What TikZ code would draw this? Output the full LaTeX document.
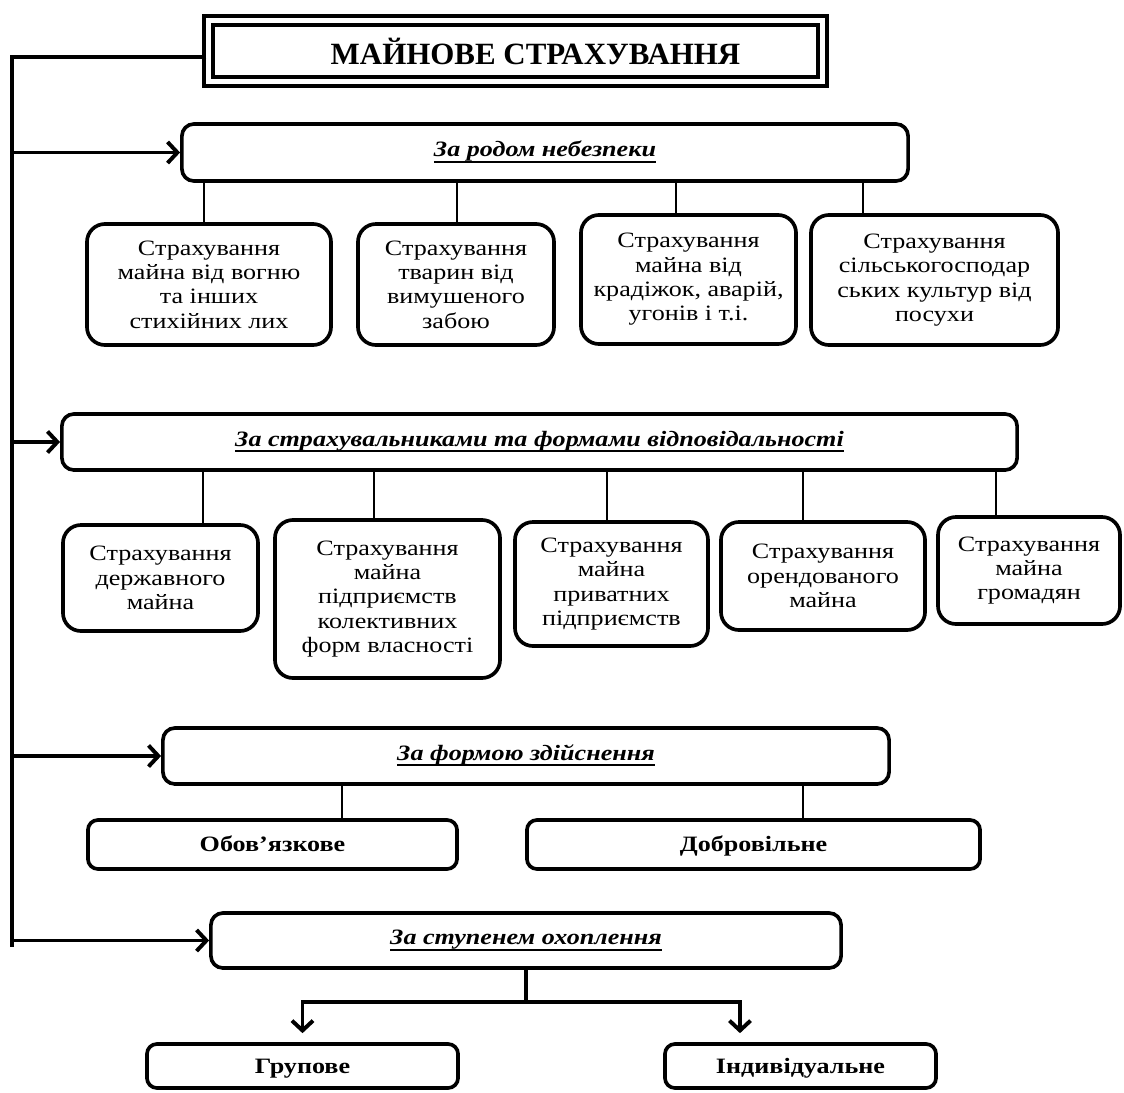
\documentclass[tikz,border=0pt]{standalone}
\usepackage{fontspec}
\setmainfont{Liberation Serif}[FakeStretch=1.19]
\newfontfamily\titlefont{Liberation Serif}
\usetikzlibrary{arrows.meta}
\newsavebox{\hdrbox}
\newcommand{\hdr}[1]{\sbox{\hdrbox}{\bfseries\itshape #1}\rlap{\rule[-4pt]{\wd\hdrbox}{1.3pt}}\usebox{\hdrbox}}

\begin{document}
\begin{tikzpicture}[x=0.025cm, y=-0.025cm,
  font=\fontsize{15.6}{17.3}\selectfont,
  box/.style={draw, line width=2.6pt, rounded corners=0.45cm, align=center, inner sep=0pt},
  head/.style={draw, line width=2.6pt, rounded corners=0.3cm, inner sep=0pt, text height=10.3pt, text depth=4pt},
  kind/.style={draw, line width=2.6pt, rounded corners=0.25cm, inner sep=0pt, text height=10.3pt, text depth=0pt, font=\fontsize{15.6}{17.3}\selectfont\bfseries},
  link/.style={line width=0.9pt},
  trunk/.style={line width=2.8pt},
  branch/.style={line width=2.8pt, -{Straight Barb[length=7pt, width=15pt]}}]
\useasboundingbox (0,0) rectangle (1124,1092);

% title
\node[draw, line width=3pt, double, double distance=3.2pt, minimum width=15.35cm, minimum height=1.525cm, inner sep=0pt, font=\titlefont\fontsize{22}{26}\selectfont\bfseries] (title) at (515.5,51) {\hspace*{1cm}МАЙНОВЕ СТРАХУВАННЯ};

% criteria
\node[head, minimum width=18.15cm, minimum height=1.425cm] (hazard) at (545,152.5) {\hdr{За родом небезпеки}};
\node[head, minimum width=23.875cm, minimum height=1.4cm] (holder) at (539.5,442) {\hdr{За страхувальниками та формами відповідальності}};
\node[head, minimum width=18.15cm, minimum height=1.4cm] (form) at (526,756) {\hdr{За формою здійснення}};
\node[head, minimum width=15.75cm, minimum height=1.375cm] (cover) at (526,940.5) {\hdr{За ступенем охоплення}};

% by hazard
\node[box, minimum width=6.1cm, minimum height=3.025cm] (h1) at (209,284.5) {Страхування\\майна від вогню\\та інших\\стихійних лих};
\node[box, minimum width=4.9cm, minimum height=3.025cm] (h2) at (456,284.5) {Страхування\\тварин від\\вимушеного\\забою};
\node[box, minimum width=5.375cm, minimum height=3.225cm] (h3) at (688.5,279.5) {Страхування\\майна від\\крадіжок, аварій,\\угонів і т.і.};
\node[box, minimum width=6.175cm, minimum height=3.25cm] (h4) at (934.5,280) {Страхування\\сільськогосподар\\ських культур від\\посухи};

% by holders
\node[box, minimum width=4.875cm, minimum height=2.65cm] (p1) at (160.5,578) {Страхування\\державного\\майна};
\node[box, minimum width=5.625cm, minimum height=3.95cm] (p2) at (387.5,599) {Страхування\\майна\\підприємств\\колективних\\форм власності};
\node[box, minimum width=4.825cm, minimum height=3.1cm] (p3) at (611.5,584) {Страхування\\майна\\приватних\\підприємств};
\node[box, minimum width=5.1cm, minimum height=2.7cm] (p4) at (823,576) {Страхування\\орендованого\\майна};
\node[box, minimum width=4.55cm, minimum height=2.675cm] (p5) at (1029,570.5) {Страхування\\майна\\громадян};

% by form
\node[kind, minimum width=9.225cm, minimum height=1.225cm] (oblig) at (272.5,844.5) {Обов’язкове};
\node[kind, minimum width=11.325cm, minimum height=1.225cm] (volunt) at (753.5,844.5) {Добровільне};

% by coverage
\node[kind, minimum width=7.775cm, minimum height=1.1cm] (group) at (302.5,1066) {Групове};
\node[kind, minimum width=6.775cm, minimum height=1.1cm] (indiv) at (800.5,1066) {Індивідуальне};

% links
\foreach \n/\dx in {h1/-5, h2/1, h3/-12.5, h4/-71.5}
  \draw[link] ([xshift={\dx*0.025cm}]\n.north) coordinate (t) -- (t |- hazard.south);
\foreach \n/\dx in {p1/42.5, p2/-13.5, p3/-4.5, p4/-20, p5/-33}
  \draw[link] ([xshift={\dx*0.025cm}]\n.north) coordinate (t) -- (t |- holder.south);
\foreach \n/\dx in {oblig/69.5, volunt/49.5}
  \draw[link] ([xshift={\dx*0.025cm}]\n.north) coordinate (t) -- (t |- form.south);

% trunk
\coordinate (trunkend) at (12,947);
\draw[trunk] ([yshift=-0.15cm]title.west) -| (trunkend);
\foreach \n in {hazard, holder, form, cover}
  \draw[branch] (trunkend |- \n.west) -- (\n.west);

% fork
\coordinate (fk) at (526,1002);
\draw[trunk] (cover.south) -- (fk);
\draw[branch] (fk) -| ([yshift=0.225cm]group.north);
\draw[branch] (fk) -| ([xshift=-1.5125cm, yshift=0.225cm]indiv.north);
\end{tikzpicture}
\end{document}
